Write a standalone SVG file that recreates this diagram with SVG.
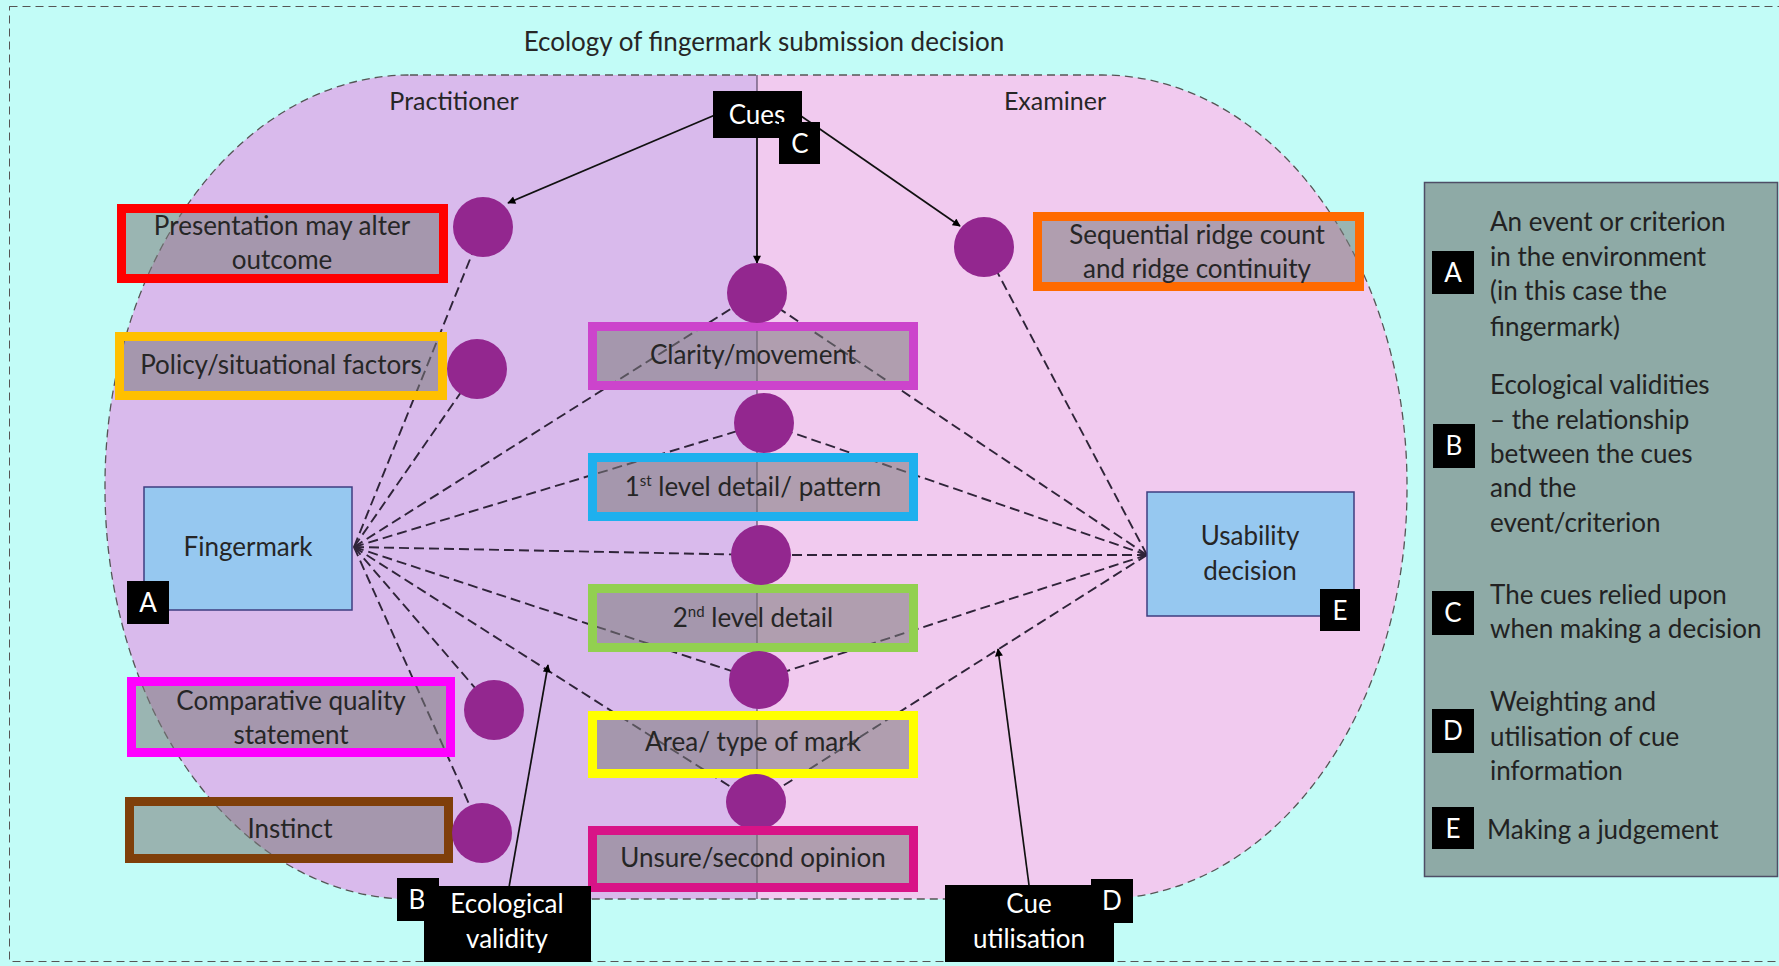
<svg xmlns="http://www.w3.org/2000/svg" width="1779" height="966" viewBox="0 0 1779 966">
<style>
text{font-family:Lato,"Liberation Sans",sans-serif;fill:#262626}
.t{font-size:26px;text-anchor:middle}
.w{fill:#fff}
.lg{font-size:26px;text-anchor:start;fill:#222}
.box{fill:#7a7a7a;fill-opacity:0.55;stroke-width:9}
.blk{fill:#000}
.dot{fill:#93278F}
.dash{fill:none;stroke:#2f2439;stroke-width:1.9;stroke-dasharray:10 5}
.arr{fill:none;stroke:#111;stroke-width:1.7;marker-end:url(#ah)}
.blue{fill:#96C8F0;stroke:#3E3E80;stroke-width:1.5}
</style>
<defs>
<marker id="ah" viewBox="0 0 10 10" refX="9" refY="5" markerWidth="9" markerHeight="8" orient="auto" markerUnits="userSpaceOnUse">
<path d="M0,0 L10,5 L0,10 z" fill="#000"/>
</marker>
<clipPath id="lh"><rect x="0" y="0" width="757" height="966"/></clipPath>
<clipPath id="rh"><rect x="757" y="0" width="1022" height="966"/></clipPath>
</defs>
<rect x="0" y="0" width="1779" height="966" fill="#C2FCF7"/>
<rect x="9.5" y="6.5" width="1790" height="955" fill="none" stroke="#555" stroke-width="1" stroke-dasharray="8 5"/>
<text x="764" y="51" style="font-size:26px;text-anchor:middle">Ecology of fingermark submission decision</text>
<g id="ecology">
<rect x="105" y="75" width="1302" height="824" rx="305" ry="410" fill="#D9BAEC" clip-path="url(#lh)"/>
<rect x="105" y="75" width="1302" height="824" rx="305" ry="410" fill="#F1CAEF" clip-path="url(#rh)"/>
<rect x="105" y="75" width="1302" height="824" rx="305" ry="410" fill="none" stroke="#555" stroke-width="1.3" stroke-dasharray="8 5"/>
<line x1="757" y1="75" x2="757" y2="899" stroke="#5d4c6a" stroke-width="1.2"/>
<text x="454" y="110" style="font-size:25px;text-anchor:middle">Practitioner</text>
<text x="1055" y="110" style="font-size:25px;text-anchor:middle">Examiner</text>
</g>
<g id="connectors">
<line class="dash" x1="354" y1="547" x2="483" y2="227"/>
<line class="dash" x1="354" y1="547" x2="477" y2="369"/>
<line class="dash" x1="354" y1="547" x2="756" y2="293"/>
<line class="dash" x1="354" y1="547" x2="764" y2="423"/>
<line class="dash" x1="354" y1="547" x2="761" y2="555"/>
<line class="dash" x1="354" y1="547" x2="759" y2="680"/>
<line class="dash" x1="354" y1="547" x2="756" y2="803"/>
<line class="dash" x1="354" y1="547" x2="494" y2="710"/>
<line class="dash" x1="354" y1="547" x2="482" y2="833"/>
<line class="dash" x1="1147" y1="555" x2="984" y2="247"/>
<line class="dash" x1="1147" y1="555" x2="756" y2="293"/>
<line class="dash" x1="1147" y1="555" x2="764" y2="423"/>
<line class="dash" x1="1147" y1="555" x2="761" y2="555"/>
<line class="dash" x1="1147" y1="555" x2="759" y2="680"/>
<line class="dash" x1="1147" y1="555" x2="756" y2="803"/>
<line class="arr" x1="715" y1="115" x2="508" y2="203"/>
<line class="arr" x1="757" y1="138" x2="757" y2="263"/>
<line class="arr" x1="801" y1="116" x2="960" y2="226"/>
<line class="arr" x1="508" y1="893" x2="548" y2="665"/>
<line class="arr" x1="1029" y1="885" x2="998" y2="649"/>
</g>
<g id="presentation">
<rect class="box" x="121.5" y="208.5" width="322" height="70" stroke="#FF0000"/>
<text class="t" x="282" y="235">Presentation may alter</text>
<text class="t" x="282" y="269">outcome</text>
<ellipse class="dot" cx="483" cy="227" rx="30" ry="30"/>
</g>
<g id="policy">
<rect class="box" x="119.5" y="336.5" width="323" height="59" stroke="#FFC000"/>
<text class="t" x="281" y="374">Policy/situational factors</text>
<ellipse class="dot" cx="477" cy="369" rx="30" ry="30"/>
</g>
<g id="comparative">
<rect class="box" x="131.5" y="681.5" width="319" height="71" stroke="#FF00FF"/>
<text class="t" x="291" y="710">Comparative quality</text>
<text class="t" x="291" y="744">statement</text>
<ellipse class="dot" cx="494" cy="710" rx="30" ry="30"/>
</g>
<g id="instinct">
<rect class="box" x="129.5" y="801.5" width="319" height="57" stroke="#7F3F0A"/>
<text class="t" x="290" y="838">Instinct</text>
<ellipse class="dot" cx="482" cy="833" rx="30" ry="30"/>
</g>
<g id="sequential">
<rect class="box" x="1037.5" y="216.5" width="322" height="70" stroke="#FF6A00"/>
<text class="t" x="1197" y="244">Sequential ridge count</text>
<text class="t" x="1197" y="278">and ridge continuity</text>
<ellipse class="dot" cx="984" cy="247" rx="30" ry="30"/>
</g>
<g id="clarity">
<rect class="box" x="592.5" y="326.5" width="321" height="59" stroke="#CC44CC"/>
<text class="t" x="753" y="364">Clarity/movement</text>
<ellipse class="dot" cx="757" cy="293" rx="30" ry="30"/>
</g>
<g id="first-level">
<rect class="box" x="592.5" y="457.5" width="321" height="59" stroke="#1EB0EE"/>
<text class="t" x="753" y="496">1<tspan dy="-10" font-size="15">st</tspan><tspan dy="10"> level detail/ pattern</tspan></text>
<ellipse class="dot" cx="764" cy="423" rx="30" ry="30"/>
</g>
<g id="second-level">
<rect class="box" x="592.5" y="588.5" width="321" height="59" stroke="#92D050"/>
<text class="t" x="753" y="627">2<tspan dy="-10" font-size="15">nd</tspan><tspan dy="10"> level detail</tspan></text>
<ellipse class="dot" cx="761" cy="555" rx="30" ry="30"/>
</g>
<g id="area">
<rect class="box" x="592.5" y="715.5" width="321" height="58" stroke="#FFFF00"/>
<text class="t" x="753" y="751">Area/ type of mark</text>
<ellipse class="dot" cx="759" cy="680" rx="30" ry="29"/>
</g>
<g id="unsure">
<ellipse class="dot" cx="756" cy="802" rx="30" ry="28"/>
<rect class="box" x="592.5" y="830.5" width="321" height="57" stroke="#D81487"/>
<text class="t" x="753" y="867">Unsure/second opinion</text>
</g>
<g id="fingermark">
<rect class="blue" x="144" y="487" width="208" height="123"/>
<text class="t" x="248" y="556">Fingermark</text>
<rect class="blk" x="127" y="581" width="42" height="43"/>
<text class="t w" x="148" y="612">A</text>
</g>
<g id="usability">
<rect class="blue" x="1147" y="492" width="207" height="124"/>
<text class="t" x="1250" y="545">Usability</text>
<text class="t" x="1250" y="580">decision</text>
<rect class="blk" x="1320" y="589" width="40" height="42"/>
<text class="t w" x="1340" y="620">E</text>
</g>
<g id="cues">
<rect class="blk" x="713" y="91" width="89" height="47"/>
<text class="t w" x="757" y="124">Cues</text>
<rect class="blk" x="779" y="122" width="41" height="42"/>
<text class="t w" x="800" y="153">C</text>
</g>
<g id="ecological-validity">
<rect class="blk" x="397" y="878" width="42" height="43"/>
<text class="t w" x="417" y="909">B</text>
<rect class="blk" x="424" y="886" width="167" height="76"/>
<text class="t w" x="507" y="913">Ecological</text>
<text class="t w" x="507" y="948">validity</text>
</g>
<g id="cue-utilisation">
<rect class="blk" x="945" y="885" width="169" height="77"/>
<text class="t w" x="1029" y="913">Cue</text>
<text class="t w" x="1029" y="948">utilisation</text>
<rect class="blk" x="1091" y="879" width="42" height="44"/>
<text class="t w" x="1112" y="910">D</text>
</g>
<g id="legend">
<rect x="1424.5" y="182.5" width="353" height="694" fill="#8EAAA6" stroke="#4E4E66" stroke-width="1.5"/>
<rect class="blk" x="1432" y="251" width="42" height="43"/>
<text class="t w" x="1453" y="282">A</text>
<text class="lg" x="1490" y="231">An event or criterion</text>
<text class="lg" x="1490" y="266">in the environment</text>
<text class="lg" x="1490" y="300">(in this case the</text>
<text class="lg" x="1490" y="336">fingermark)</text>
<rect class="blk" x="1433" y="424" width="42" height="44"/>
<text class="t w" x="1454" y="455">B</text>
<text class="lg" x="1490" y="394">Ecological validities</text>
<text class="lg" x="1490" y="429">– the relationship</text>
<text class="lg" x="1490" y="463">between the cues</text>
<text class="lg" x="1490" y="497">and the</text>
<text class="lg" x="1490" y="532">event/criterion</text>
<rect class="blk" x="1432" y="591" width="42" height="44"/>
<text class="t w" x="1453" y="622">C</text>
<text class="lg" x="1490" y="604">The cues relied upon</text>
<text class="lg" x="1490" y="638">when making a decision</text>
<rect class="blk" x="1432" y="709" width="42" height="44"/>
<text class="t w" x="1453" y="740">D</text>
<text class="lg" x="1490" y="711">Weighting and</text>
<text class="lg" x="1490" y="746">utilisation of cue</text>
<text class="lg" x="1490" y="780">information</text>
<rect class="blk" x="1432" y="807" width="42" height="42"/>
<text class="t w" x="1453" y="838">E</text>
<text class="lg" x="1487" y="839">Making a judgement</text>
</g>
</svg>
